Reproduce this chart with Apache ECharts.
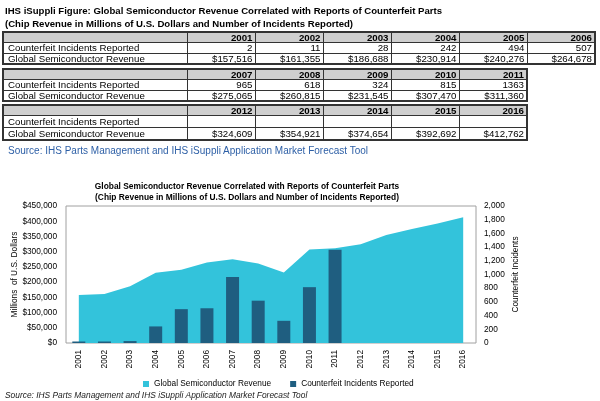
<!DOCTYPE html>
<html><head><meta charset="utf-8">
<script src="https://cdn.jsdelivr.net/npm/echarts/dist/echarts.min.js"></script>
<style>
html,body{margin:0;padding:0;width:600px;height:401px;overflow:hidden;background:#fff;font-family:"Liberation Sans",Arial,sans-serif;color:#000;}
#chart{position:absolute;left:0;top:0;width:600px;height:401px;}
#head{position:absolute;left:0;top:0;width:600px;height:165px;z-index:2;}
.tt{position:absolute;left:5px;font-weight:bold;font-size:9.6px;white-space:nowrap;}
.src{position:absolute;left:8px;font-size:10px;color:#2d5fa6;white-space:nowrap;}
table{position:absolute;left:2px;border-collapse:collapse;font-size:9.7px;table-layout:fixed;border:2px solid #333;}
td{border:1px solid #333;padding:0 2px 0 4px;line-height:9px;height:9px;text-align:right;white-space:nowrap;overflow:visible;}
td.lab{text-align:left;}
tr.hd td{background:#cfcfcf;font-weight:bold;}
</style>
</head><body>
<div id="head"></div>
<div id="chart"></div>
<script>
var years = ['2001','2002','2003','2004','2005','2006','2007','2008','2009','2010','2011','2012','2013','2014','2015','2016'];
var revenue = [157516,161355,186688,230914,240276,264678,275065,260815,231545,307470,311360,324609,354921,374654,392692,412762];
var incidents = [2,11,28,242,494,507,965,618,324,815,1363,null,null,null,null,null];
var revenueTicksLeft = ['$0','$50,000','$100,000','$150,000','$200,000','$250,000','$300,000','$350,000','$400,000','$450,000'];
var incidentTicksRight = ['0','200','400','600','800','1,000','1,200','1,400','1,600','1,800','2,000'];
var headTitle1 = 'IHS iSuppli Figure: Global Semiconductor Revenue Correlated with Reports of Counterfeit Parts';
var headTitle2 = '(Chip Revenue in Millions of U.S. Dollars and Number of Incidents Reported)';
var chartTitle1 = 'Global Semiconductor Revenue Correlated with Reports of Counterfeit Parts';
var chartTitle2 = '(Chip Revenue in Millions of U.S. Dollars and Number of Incidents Reported)';
var rowLabels = ['Counterfeit Incidents Reported','Global Semiconductor Revenue'];
var seriesNames = ['Global Semiconductor Revenue','Counterfeit Incidents Reported'];
var sourceTop = 'Source: IHS Parts Management and IHS iSuppli Application Market Forecast Tool';
var sourceBottom = 'Source: IHS Parts Management and IHS iSuppli Application Market Forecast Tool';

function money(v){ return '$' + v.toLocaleString('en-US'); }

var head = document.getElementById('head');
function addDiv(cls, text, top){ var d=document.createElement('div'); d.className=cls; d.textContent=text; if(top!=null) d.style.top=top+'px'; head.appendChild(d); return d; }
addDiv('tt', headTitle1, 5);
addDiv('tt', headTitle2, 18);
function makeTable(from, to, top, rowH){
  var t=document.createElement('table'); t.style.top=top+'px';
  var cg=document.createElement('colgroup');
  var c0=document.createElement('col'); c0.style.width='184px'; cg.appendChild(c0);
  for(var i=from;i<to;i++){ var c=document.createElement('col'); c.style.width='68px'; cg.appendChild(c); }
  t.appendChild(cg);
  var rows=[['',null],[rowLabels[0],incidents],[rowLabels[1],revenue]];
  rows.forEach(function(r,ri){
    var tr=document.createElement('tr'); if(ri===0) tr.className='hd';
    tr.style.height=rowH[ri]+'px';
    var td=document.createElement('td'); td.className='lab'; td.textContent=r[0]; tr.appendChild(td);
    for(var i=from;i<to;i++){
      var c=document.createElement('td');
      if(ri===0) c.textContent=years[i];
      else if(ri===1) c.textContent = incidents[i]==null?'':String(incidents[i]);
      else c.textContent = money(revenue[i]);
      tr.appendChild(c);
    }
    t.appendChild(tr);
  });
  head.appendChild(t);
}
makeTable(0,6,31,[10.5,10.5,10.5]);
makeTable(6,11,68,[10.5,10.5,10.5]);
makeTable(11,16,104,[10.5,12,12]);
addDiv('src', sourceTop, 145);

var chart = echarts.init(document.getElementById('chart'), null, {renderer:'canvas'});
var FF = 'Liberation Sans, Arial, sans-serif';
var lab = {fontFamily:FF, fontSize:8.3, color:'#000'};
chart.setOption({
  animation:false,
  textStyle:{fontFamily:FF},
  grid:{left:66,right:124,top:206,bottom:58,show:true,borderColor:'#a0a0a0',borderWidth:1,containLabel:false,outerBoundsMode:'none'},
  legend:{data:seriesNames,left:138,top:375,icon:'rect',itemWidth:6,itemHeight:6,itemGap:19,textStyle:lab},
  graphic:[
    {type:'text',x:247,y:183,style:{text:chartTitle1,textAlign:'center',font:'bold 8.4px "Liberation Sans", Arial, sans-serif',fill:'#000'}},
    {type:'text',x:247,y:194,style:{text:chartTitle2,textAlign:'center',font:'bold 8.4px "Liberation Sans", Arial, sans-serif',fill:'#000'}},
    {type:'text',x:5,y:392,style:{text:sourceBottom,font:'italic 8.4px "Liberation Sans", Arial, sans-serif',fill:'#222'}}
  ],
  xAxis:{type:'category',data:years,boundaryGap:true,axisLine:{show:false},axisTick:{show:false},
    axisLabel:Object.assign({rotate:90,margin:7,interval:0},lab)},
  yAxis:[
    {type:'value',min:0,max:450000,interval:50000,splitLine:{show:false},axisLine:{show:false},axisTick:{show:false},
     axisLabel:Object.assign({margin:9,formatter:function(v){return revenueTicksLeft[Math.round(v/50000)];}},lab),
     name:'Millions  of U.S. Dollars',nameLocation:'middle',nameRotate:90,nameGap:47,nameMoveOverlap:false,nameTextStyle:lab},
    {type:'value',min:0,max:2000,interval:200,splitLine:{show:false},axisLine:{show:false},axisTick:{show:false},
     axisLabel:Object.assign({margin:8,formatter:function(v){return incidentTicksRight[Math.round(v/200)];}},lab),
     name:'Counterfeit Incidents',nameLocation:'middle',nameRotate:90,nameGap:36,nameMoveOverlap:false,nameTextStyle:lab}
  ],
  series:[
    {name:seriesNames[0],type:'line',data:revenue,yAxisIndex:0,symbol:'none',lineStyle:{width:0},z:1,
     itemStyle:{color:'#33c3db'},areaStyle:{color:'#33c3db',opacity:1}},
    {name:seriesNames[1],type:'bar',data:incidents,yAxisIndex:1,barWidth:13,barMinHeight:1.5,z:5,itemStyle:{color:'#1f5e80'}}
  ]
});
</script>
</body></html>
